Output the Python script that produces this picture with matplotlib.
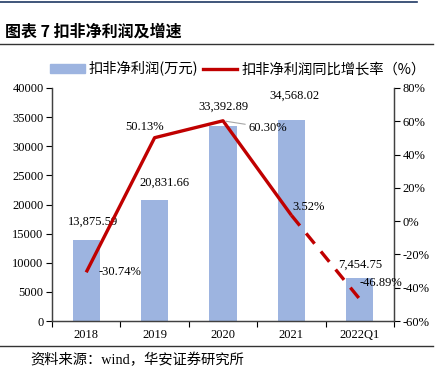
import matplotlib
matplotlib.use('Agg')
import matplotlib.pyplot as plt
from matplotlib.lines import Line2D
from matplotlib.patches import Patch
import numpy as np

# 数据
categories = ['2018', '2019', '2020', '2021', '2022Q1']
profit = [13875.59, 20831.66, 33392.89, 34568.02, 7454.75]
growth = [-30.74, 50.13, 60.30, 3.52, -46.89]
profit_labels = ['13,875.59', '20,831.66', '33,392.89', '34,568.02', '7,454.75']
growth_labels = ['-30.74%', '50.13%', '60.30%', '3.52%', '-46.89%']

bar_color = '#9DB4E0'
line_color = '#C00000'
serif = ['Liberation Serif', 'Noto Sans CJK SC']
cjk = ['Noto Sans CJK SC', 'DejaVu Sans']

fig = plt.figure(figsize=(4.4, 3.76), dpi=100)
W, H = 440, 376

# 页眉、页脚线
fig.add_artist(Line2D([0, 417 / W], [1 - 2 / H, 1 - 2 / H], color='#1F3864', lw=1.2))
fig.add_artist(Line2D([0, 433 / W], [1 - 44 / H, 1 - 44 / H], color='#333333', lw=1.0))
fig.add_artist(Line2D([0, 433 / W], [1 - 346 / H, 1 - 346 / H], color='#333333', lw=1.0))
fig.text(5 / W, 1 - 32 / H, '图表 7 扣非净利润及增速', family=cjk, fontsize=11.5,
         fontweight='bold', va='center', ha='left')
fig.text(30 / W, 1 - 360 / H, '资料来源：wind，华安证券研究所', family=serif, fontsize=10.3,
         va='center', ha='left')

ax = fig.add_axes([52 / W, 1 - 321 / H, (394 - 52) / W, (321 - 88) / H])
ax2 = ax.twinx()

x = np.arange(len(categories))
ax.bar(x, profit, width=0.4, color=bar_color, zorder=1)
ax.set_ylim(0, 40000)
ax.set_yticks(range(0, 40001, 5000))
ax.set_xlim(-0.5, len(categories) - 0.5)
ax.set_xticks(np.arange(-0.5, len(categories), 1))
ax.set_xticklabels([])
ax.set_xticks(x, minor=True)
ax.set_xticklabels(categories, minor=True)
ax.tick_params(axis='x', which='minor', length=0, pad=6)
ax.tick_params(axis='x', which='major', length=4, direction='out')
ax.tick_params(axis='y', length=4, direction='out', pad=2)
for lab in ax.get_xticklabels(minor=True) + ax.get_yticklabels():
    lab.set_family(serif)
    lab.set_fontsize(9)

ax2.plot(x[:4], growth[:4], color=line_color, lw=2.4, solid_capstyle='butt', zorder=3)
ax2.plot(x[3:], growth[3:], color=line_color, lw=2.4, dashes=(4, 3), zorder=3)
ax2.set_ylim(-60, 80)
ax2.set_yticks(range(-60, 81, 20))
ax2.set_yticklabels([f'{v}%' for v in range(-60, 81, 20)])
ax2.tick_params(axis='y', length=4, direction='out', pad=2)
for lab in ax2.get_yticklabels():
    lab.set_family(serif)
    lab.set_fontsize(9)

for a in (ax, ax2):
    a.spines['top'].set_visible(False)
    for s in ('left', 'right', 'bottom'):
        a.spines[s].set_color('#404040')
        a.spines[s].set_linewidth(0.9)

# 柱状图数据标签
bar_offsets = [(5, 13), (7, 12), (0, 14), (2, 17), (0, 9)]
for i, (v, t) in enumerate(zip(profit, profit_labels)):
    ax.annotate(t, (x[i], v), xytext=bar_offsets[i], textcoords='offset points',
                ha='center', va='center', family=serif, fontsize=9, zorder=5)

# 折线数据标签
line_offsets = [(9, 0), (-7, 8), (18, -5), (1, 6), (0, 12)]
for i, (v, t) in enumerate(zip(growth, growth_labels)):
    kw = {}
    if i == 2:
        kw['arrowprops'] = dict(arrowstyle='-', color='#A6A6A6', lw=0.8,
                                shrinkA=0, shrinkB=2)
    ax2.annotate(t, (x[i], v), xytext=line_offsets[i], textcoords='offset points',
                 ha='left' if i != 1 else 'center', va='center', family=serif,
                 fontsize=9, zorder=5, **kw)

handles = [Patch(color=bar_color), Line2D([], [], color=line_color, lw=2.4)]
fig.legend(handles, ['扣非净利润(万元)', '扣非净利润同比增长率（%）'], ncol=2,
           loc='center', bbox_to_anchor=(238 / W, 1 - 69 / H), frameon=False,
           prop={'family': cjk, 'size': 10.3}, handlelength=2.4, handleheight=0.6,
           handletextpad=0.3, columnspacing=0.3, borderpad=0)

fig.savefig('out.png', dpi=100)
